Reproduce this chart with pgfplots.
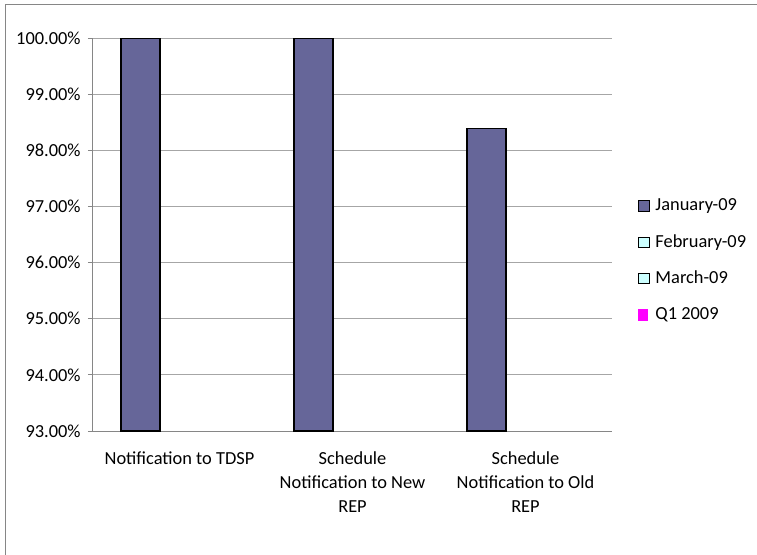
\documentclass[border=0pt]{standalone}
\usepackage{pgfplots}
\pgfplotsset{compat=1.18}
\usepackage{fontspec}
\setmainfont{Carlito}
\definecolor{janc}{HTML}{666699}
\definecolor{febc}{HTML}{CCFFFF}
\definecolor{q1c}{HTML}{FF00FF}
\definecolor{axc}{HTML}{868686}
\definecolor{gridc}{HTML}{A6A6A6}
\begin{document}
\begin{tikzpicture}[font=\fontsize{13.8pt}{18pt}\selectfont]
\useasboundingbox (0,0) rectangle (567.75pt,-415.5pt);
\begin{scope}
\clip (0,0) rectangle (567.75pt,-415.5pt);
\draw[axc, line width=0.75pt] (3.75pt,-3pt) rectangle (620pt,-460pt);
\begin{axis}[
  at={(69.75pt,-28.5pt)}, anchor=north west,
  scale only axis, width=389.25pt, height=294.75pt,
  xmin=0.5, xmax=3.5, ymin=93, ymax=100,
  axis lines*=left,
  axis line style={axc, line width=0.75pt},
  tick align=outside,
  xtick={1,2,3},
  xticklabels={Notification to TDSP, Schedule\\Notification to New\\REP, Schedule\\Notification to Old\\REP},
  x tick style={draw=none},
  minor xtick={0.5,1.5,2.5,3.5},
  minor x tick style={axc, line width=0.75pt},
  minor tick length=3.75pt,
  xticklabel style={align=center, anchor=north, yshift=-8.5pt},
  ytick={93,94,...,100},
  y tick style={axc, line width=0.75pt},
  major tick length=3.75pt,
  ymajorgrids,
  major grid style={gridc, line width=0.75pt},
  /pgf/number format/assume math mode=true,
  yticklabel={\pgfmathprintnumber[fixed,fixed zerofill,precision=2]{\tick}\%},
  yticklabel style={xshift=-2pt},
  clip=true,
  legend style={at={(rel axis cs:1.0501,0.4338)}, anchor=west, draw=none, fill=none,
    inner sep=0pt, row sep=14.2pt,
    nodes={inner sep=0pt, text height=10pt, text depth=3pt, anchor=west}},
  legend cell align=left,
]
\addplot[ybar, bar width=29.25pt, bar shift=-29.25pt, fill=janc, draw=black, line width=0.8pt,
  legend image code/.code={\draw[fill=janc, draw=black, line width=0.75pt] (0pt,-3.9pt) rectangle (7.8pt,3.9pt); \path (12pt,0pt);}]
  coordinates {(1,100) (2,100) (3,98.38)};
\addlegendentry{January-09}
\addlegendimage{legend image code/.code={\draw[fill=febc, draw=black, line width=0.75pt] (0pt,-3.9pt) rectangle (7.8pt,3.9pt); \path (12pt,0pt);}}
\addlegendentry{February-09}
\addlegendimage{legend image code/.code={\draw[fill=febc, draw=black, line width=0.75pt] (0pt,-3.9pt) rectangle (7.8pt,3.9pt); \path (12pt,0pt);}}
\addlegendentry{March-09}
\addlegendimage{legend image code/.code={\fill[q1c] (-0.3pt,-4.2pt) rectangle (6.2pt,4.2pt); \path (12pt,0pt);}}
\addlegendentry{Q1 2009}
\end{axis}
\end{scope}
\end{tikzpicture}
\end{document}
